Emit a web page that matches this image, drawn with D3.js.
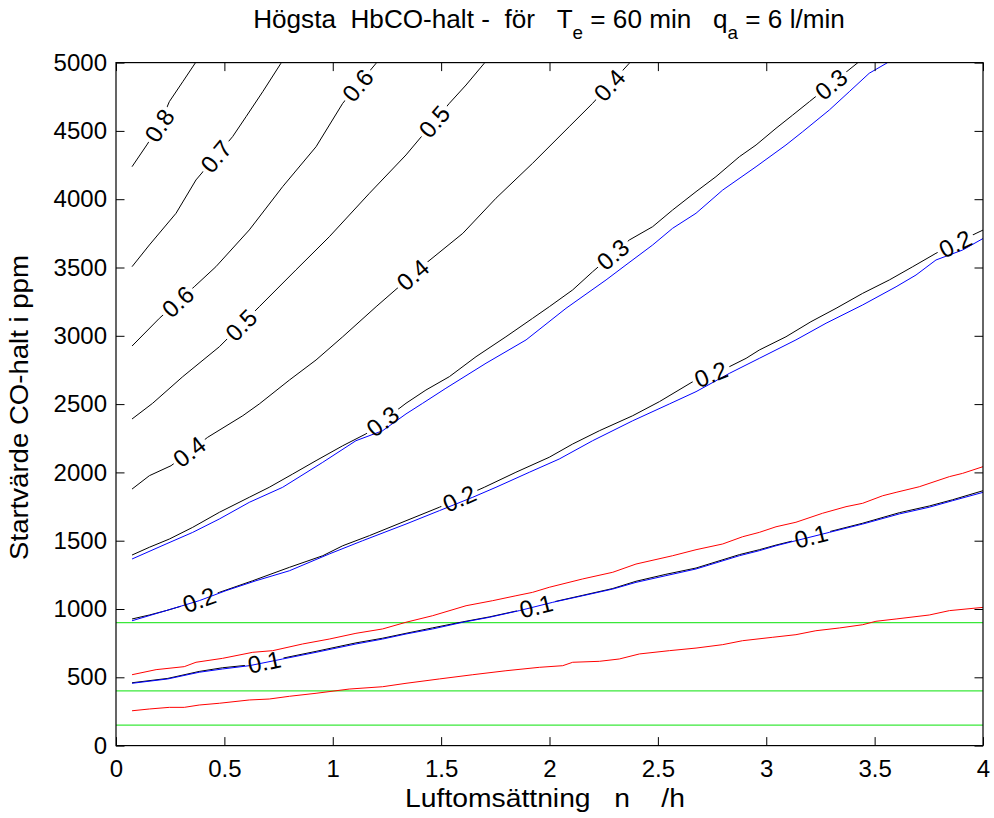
<!DOCTYPE html>
<html>
<head>
<meta charset="utf-8">
<script src="https://cdn.jsdelivr.net/npm/d3@7"></script>
<style>
  body { margin: 0; background: #fff; }
  svg text { font-family: "Liberation Sans", Arial, Helvetica, sans-serif; fill: #000; }
</style>
</head>
<body>
<svg id="chart" width="994" height="818"></svg>
<script>
// Air change rate n (1/h) on x, initial CO concentration (ppm) on y.
const xTicks = [0, 0.5, 1, 1.5, 2, 2.5, 3, 3.5, 4];
const yTicks = [0, 500, 1000, 1500, 2000, 2500, 3000, 3500, 4000, 4500, 5000];

// Contours of peak HbCO fraction: [n, ppm] pairs
const hb08 = [[0.074,4238],[0.142,4397],[0.200,4540],[0.246,4714],[0.308,4860],[0.367,5000]];
const hb07 = [[0.074,3506],[0.154,3665],[0.277,3897],[0.369,4141],[0.538,4458],[0.600,4604],[0.677,4787],[0.761,4995],[0.764,5000]];
const hb06 = [[0.074,2925],[0.200,3128],[0.361,3359],[0.461,3506],[0.615,3775],[0.769,4092],[0.923,4384],[1.046,4702],[1.200,4995],[1.203,5000]];
const hb05 = [[0.074,2391],[0.169,2506],[0.308,2701],[0.477,2920],[0.661,3213],[0.830,3482],[0.984,3725],[1.169,4043],[1.338,4324],[1.538,4702],[1.615,4836],[1.699,4995],[1.702,5000]];
const hb04 = [[0.074,1878],[0.154,1976],[0.254,2049],[0.423,2257],[0.585,2415],[0.661,2501],[0.800,2676],[0.923,2823],[1.046,2993],[1.200,3213],[1.430,3531],[1.600,3750],[1.753,4007],[1.922,4263],[2.091,4531],[2.199,4702],[2.368,4995],[2.371,5000]];
const hb03 = [[0.074,1395],[0.154,1452],[0.246,1512],[0.354,1598],[0.477,1708],[0.615,1818],[0.707,1891],[0.815,1988],[0.923,2086],[1.046,2195],[1.153,2282],[1.338,2506],[1.430,2603],[1.538,2701],[1.661,2847],[1.799,2993],[1.922,3128],[1.999,3213],[2.107,3336],[2.199,3469],[2.368,3701],[2.476,3799],[2.568,3921],[2.676,4055],[2.768,4165],[2.876,4311],[2.953,4397],[3.045,4519],[3.122,4616],[3.199,4714],[3.423,5000]];
const hb02 = [[0.074,927],[0.154,956],[0.231,988],[0.308,1024],[0.477,1122],[0.631,1207],[0.800,1305],[0.954,1390],[1.046,1463],[1.169,1537],[1.338,1646],[1.492,1745],[1.699,1891],[1.845,2001],[1.999,2111],[2.107,2208],[2.230,2305],[2.384,2415],[2.507,2518],[2.661,2664],[2.830,2774],[2.907,2835],[2.968,2896],[3.091,2993],[3.206,3103],[3.322,3201],[3.445,3311],[3.568,3409],[3.676,3506],[3.783,3604],[3.968,3750],[4.0,3774]];
const hb01 = [[0.074,460],[0.239,492],[0.384,543],[0.492,570],[0.615,590],[0.769,640],[0.923,690],[1.107,752],[1.230,786],[1.338,822],[1.461,862],[1.600,906],[1.722,942],[1.861,990],[2.015,1051],[2.153,1100],[2.292,1150],[2.399,1203],[2.537,1254],[2.676,1300],[2.876,1398],[2.968,1434],[3.045,1468],[3.137,1504],[3.291,1566],[3.445,1628],[3.614,1705],[3.752,1754],[3.860,1800],[4.0,1866]];

// Companion curves (blue) for the three lowest levels
const blue03 = [[0.074,1366],[0.231,1476],[0.354,1561],[0.477,1659],[0.615,1781],[0.769,1891],[0.954,2074],[1.107,2232],[1.230,2305],[1.338,2428],[1.415,2506],[1.522,2616],[1.707,2799],[1.892,2970],[2.076,3201],[2.261,3409],[2.353,3519],[2.476,3665],[2.568,3787],[2.676,3897],[2.799,4067],[2.953,4238],[3.091,4397],[3.168,4494],[3.291,4653],[3.383,4787],[3.475,4922],[3.560,5000]];
const blue02 = [[0.074,914],[0.231,988],[0.384,1061],[0.507,1134],[0.646,1207],[0.800,1280],[0.984,1403],[1.138,1500],[1.338,1622],[1.492,1720],[1.646,1818],[1.753,1891],[1.907,2001],[2.045,2098],[2.199,2232],[2.384,2378],[2.553,2501],[2.676,2591],[2.830,2725],[2.968,2835],[3.137,2970],[3.276,3092],[3.445,3226],[3.599,3359],[3.691,3445],[3.783,3555],[3.906,3628],[4.0,3712]];
const blue01 = [[0.074,456],[0.239,488],[0.384,537],[0.492,561],[0.615,585],[0.769,634],[0.923,683],[1.107,744],[1.230,780],[1.338,817],[1.461,854],[1.600,903],[1.722,939],[1.861,988],[2.015,1049],[2.153,1097],[2.292,1146],[2.399,1195],[2.537,1244],[2.676,1293],[2.876,1390],[2.968,1427],[3.045,1463],[3.137,1500],[3.291,1561],[3.445,1622],[3.614,1696],[3.752,1745],[3.860,1793],[4.0,1854]];

// Red curves
const redUpper = [[0.074,519],[0.185,556],[0.315,578],[0.369,610],[0.492,639],[0.631,683],[0.723,695],[0.861,744],[0.984,780],[1.107,822],[1.230,854],[1.338,903],[1.461,951],[1.615,1024],[1.738,1061],[1.845,1097],[1.922,1122],[1.999,1159],[2.153,1220],[2.292,1269],[2.399,1329],[2.568,1390],[2.676,1434],[2.799,1476],[2.891,1529],[2.968,1561],[3.045,1602],[3.137,1635],[3.260,1701],[3.368,1749],[3.445,1774],[3.537,1829],[3.599,1854],[3.706,1895],[3.845,1969],[3.906,1993],[4.0,2042]];
const redLower = [[0.074,255],[0.154,268],[0.246,280],[0.315,280],[0.384,297],[0.477,310],[0.615,334],[0.707,341],[0.800,361],[0.923,383],[1.076,414],[1.230,431],[1.338,456],[1.492,488],[1.646,519],[1.799,548],[1.953,573],[2.061,585],[2.107,610],[2.230,617],[2.322,634],[2.415,671],[2.553,695],[2.676,714],[2.799,739],[2.891,768],[3.030,793],[3.137,812],[3.229,841],[3.337,861],[3.445,885],[3.506,910],[3.599,927],[3.752,956],[3.845,988],[4.0,1012]];

// Horizontal reference levels (ppm)
const greenLevels = [900, 400, 150];

// Level values and their contour paths
const levels = [0.1, 0.2, 0.3, 0.4, 0.5, 0.6, 0.7, 0.8];
const levelLines = [hb01, hb02, hb03, hb04, hb05, hb06, hb07, hb08];

// Inline labels: [level, n at label centre]
const labelSpots = [
  [0.8, 0.20], [0.7, 0.461], [0.6, 0.285], [0.6, 1.115],
  [0.5, 0.577], [0.5, 1.468], [0.4, 0.338], [0.4, 1.369], [0.4, 2.276],
  [0.3, 1.23], [0.3, 2.292], [0.3, 3.299],
  [0.2, 0.384], [0.2, 1.584], [0.2, 2.745], [0.2, 3.872],
  [0.1, 0.684], [0.1, 1.938], [0.1, 3.207]
];

const svg = d3.select("#chart");
const L = 116, R = 983, T = 62.6, B = 745.6;
const x = d3.scaleLinear().domain([0, 4]).range([L, R]);
const y = d3.scaleLinear().domain([0, 5000]).range([B, T]);
const line = d3.line().x(d => x(d[0])).y(d => y(d[1]));

svg.append("rect").attr("width", 994).attr("height", 818).attr("fill", "#fff");

const defs = svg.append("defs");
defs.append("clipPath").attr("id", "plotClip")
  .append("rect").attr("x", L).attr("y", T).attr("width", R - L).attr("height", B - T);
const mask = defs.append("mask").attr("id", "labelMask").attr("maskUnits", "userSpaceOnUse")
  .attr("x", 0).attr("y", 0).attr("width", 994).attr("height", 818);
mask.append("rect").attr("width", 994).attr("height", 818).attr("fill", "#fff");

const plot = svg.append("g").attr("clip-path", "url(#plotClip)");

// green reference lines
plot.selectAll("line.green").data(greenLevels).join("line")
  .attr("x1", x(0)).attr("x2", x(4))
  .attr("y1", d => y(d)).attr("y2", d => y(d))
  .attr("stroke", "#3ae83a").attr("stroke-width", 1.3);

// red curves
plot.selectAll("path.red").data([redUpper, redLower]).join("path")
  .attr("d", line).attr("fill", "none").attr("stroke", "#ff0000").attr("stroke-width", 1);

// black labelled contours (masked under labels)
const blackG = plot.append("g").attr("mask", "url(#labelMask)");
blackG.selectAll("path").data(levelLines).join("path")
  .attr("d", line).attr("fill", "none").attr("stroke", "#000").attr("stroke-width", 1);

// blue curves
plot.selectAll("path.blue").data([blue03, blue02, blue01]).join("path")
  .attr("d", line).attr("fill", "none").attr("stroke", "#0000ff").attr("stroke-width", 1);

// locate point and direction along a contour at a given n, in pixels
function pointAt(pts, n) {
  let i = 0;
  while (i < pts.length - 2 && pts[i + 1][0] < n) i++;
  const a = pts[i], b = pts[i + 1];
  const t = (n - a[0]) / (b[0] - a[0]);
  const px = x(a[0] + t * (b[0] - a[0])), py = y(a[1] + t * (b[1] - a[1]));
  const ang = Math.atan2(y(b[1]) - y(a[1]), x(b[0]) - x(a[0])) * 180 / Math.PI;
  return [px, py, ang];
}

const labelG = svg.append("g");
labelSpots.forEach(([lev, n]) => {
  const pts = levelLines[levels.indexOf(lev)];
  const [px, py, ang] = pointAt(pts, n);
  const t = labelG.append("text")
    .attr("transform", `translate(${px},${py}) rotate(${ang})`)
    .attr("text-anchor", "middle").attr("dy", "0.36em")
    .attr("font-size", 24).text(String(lev));
  const w = t.node().getComputedTextLength();
  mask.append("rect")
    .attr("x", -w / 2 - 3).attr("y", -10).attr("width", w + 6).attr("height", 20)
    .attr("transform", `translate(${px},${py}) rotate(${ang})`)
    .attr("fill", "#000");
});

// axes with inward ticks
const fmt = d3.format("");
svg.append("g").attr("transform", `translate(0,${B})`)
  .call(d3.axisBottom(x).tickValues(xTicks).tickFormat(fmt).tickSize(-8.5).tickPadding(14));
svg.append("g").attr("transform", `translate(${L},0)`)
  .call(d3.axisLeft(y).tickValues(yTicks).tickFormat(fmt).tickSize(-8.5).tickPadding(9));
svg.append("g").attr("transform", `translate(0,${T})`)
  .call(d3.axisTop(x).tickValues(xTicks).tickFormat("").tickSize(-8.5));
svg.append("g").attr("transform", `translate(${R},0)`)
  .call(d3.axisRight(y).tickValues(yTicks).tickFormat("").tickSize(-8.5));
svg.selectAll(".domain").remove();
svg.selectAll(".tick line").attr("stroke", "#000");
svg.selectAll(".tick text").attr("font-size", 24).attr("fill", "#000")
  .style("font-family", '"Liberation Sans", Arial, sans-serif');

svg.append("rect").attr("x", L).attr("y", T).attr("width", R - L).attr("height", B - T)
  .attr("fill", "none").attr("stroke", "#000").attr("stroke-width", 1.2);

// horizontal factor that brings a text to a given length
function fitLength(sel, len) {
  const w = sel.node().getBBox().width;
  return len / w;
}
const sp = n => "\u00a0".repeat(n);

// title with subscripts
const title = svg.append("text").attr("text-anchor", "middle").attr("font-size", 25);
title.append("tspan").text(`Högsta${sp(2)}HbCO-halt -${sp(2)}för${sp(3)}T`);
title.append("tspan").attr("dy", 11).attr("font-size", 18).text("e");
title.append("tspan").attr("dy", -11).text(` = 60 min${sp(3)}q`);
title.append("tspan").attr("dy", 11).attr("font-size", 18).text("a");
title.append("tspan").attr("dy", -11).text(" = 6 l/min");
title.attr("transform", `translate(549,28) scale(${fitLength(title, 592)},1)`);

// axis titles
const xl = svg.append("text").attr("text-anchor", "middle").attr("font-size", 26)
  .text(`Luftomsättning${sp(3)}n${sp(4)}/h`);
xl.attr("transform", `translate(545,807) scale(${fitLength(xl, 280)},1)`);

const yl = svg.append("text").attr("text-anchor", "middle").attr("font-size", 26)
  .text("Startvärde CO-halt i ppm");
yl.attr("transform", `translate(28,407.5) rotate(-90) scale(${fitLength(yl, 305)},1)`);
</script>
</body>
</html>
